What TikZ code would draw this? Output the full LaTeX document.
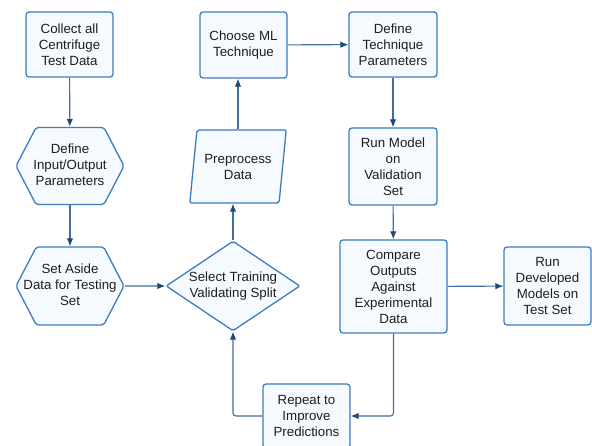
\documentclass[tikz,border=0pt]{standalone}
\usepackage{fontspec}
\setmainfont{Liberation Sans}
\usepackage{tikz}
\usetikzlibrary{shapes.geometric, shapes.symbols, arrows.meta, positioning}

\definecolor{boxline}{HTML}{3D7DBF}
\definecolor{boxfill}{HTML}{F5FAFF}
\definecolor{flowline}{HTML}{3F6F9E}
\definecolor{flowtip}{HTML}{1E4A78}
\definecolor{txt}{HTML}{1E1E1E}

% text that does not widen its shape
\newcommand{\flowtext}[1]{\makebox[0pt]{\begin{tabular}{@{}c@{}}#1\end{tabular}}}

\tikzset{
    base/.style = {draw=boxline, fill=boxfill, line width=1.3pt, text=txt,
        align=center, font=\fontsize{13.3}{16}\selectfont, inner sep=0pt},
    stepbox/.style = {base, rectangle, rounded corners=3pt},
    hexa/.style = {base, signal, signal to=east and west, signal pointer angle=125,
        rounded corners=2pt},
    decide/.style = {base, diamond, rounded corners=2pt},
    slanted/.style = {base, trapezium, trapezium left angle=77, trapezium right angle=103,
        trapezium stretches=true, rounded corners=2pt},
    flow/.style = {draw=flowline, line width=1.1pt,
        -{Latex[length=8pt,width=6.5pt,color=flowtip]}}
}

\begin{document}
\begin{tikzpicture}[x=1pt, y=-1pt]
        \useasboundingbox (0,0) rectangle (592,446);
        \clip (0,0) rectangle (592,446);
        \node (collect) [stepbox, minimum width=87pt, minimum height=65pt] at (69.5,44.5) {Collect all\\Centrifuge\\Test Data};
        \node (define) [hexa, minimum width=108pt, minimum height=77pt] at (70,166) {\flowtext{Define\\Input/Output\\Parameters}};
        \node (aside) [hexa, minimum width=108pt, minimum height=78pt] at (70,286) {\flowtext{Set Aside\\Data for Testing\\Set}};
        \node (split) [decide, minimum width=134pt, minimum height=90pt] at (233,286) {\flowtext{Select Training\\Validating Split}};
        \node (prep) [slanted, minimum width=97pt, minimum height=73pt] at (238,166.5) {Preprocess\\Data};
        \node (choose) [stepbox, minimum width=87pt, minimum height=66pt] at (243.5,45) {Choose ML\\Technique};
        \node (param) [stepbox, minimum width=88pt, minimum height=65pt] at (393,44.5) {Define\\Technique\\Parameters};
        \node (runmodel) [stepbox, minimum width=88pt, minimum height=77pt] at (393,166.5) {Run Model\\on\\Validation\\Set};
        \node (compare) [stepbox, minimum width=107pt, minimum height=93pt] at (393.5,286.5) {Compare\\Outputs\\Against\\Experimental\\Data};
        \node (rundev) [stepbox, minimum width=87pt, minimum height=78pt] at (547.5,286) {Run\\Developed\\Models on\\Test Set};
        \node (repeat) [stepbox, minimum width=87pt, minimum height=64pt] at (306.5,416) {Repeat to\\Improve\\Predictions};
        \path [flow]
            (collect) edge (define)
            (define) edge (aside)
            (aside) edge (split)
            (choose) edge (param)
            (param) edge (runmodel)
            (runmodel) edge (compare)
            (compare) edge (rundev)
            ;
        \draw [flow] (split.north) -- (split.north |- prep.south);
        \draw [flow] (prep.north) -- (prep.north |- choose.south);
        \draw [flow, rounded corners=3pt] (compare.south) |- (repeat.east);
        \draw [flow, rounded corners=3pt] (repeat.west) -| (split.south);
    \end{tikzpicture}
\end{document}
